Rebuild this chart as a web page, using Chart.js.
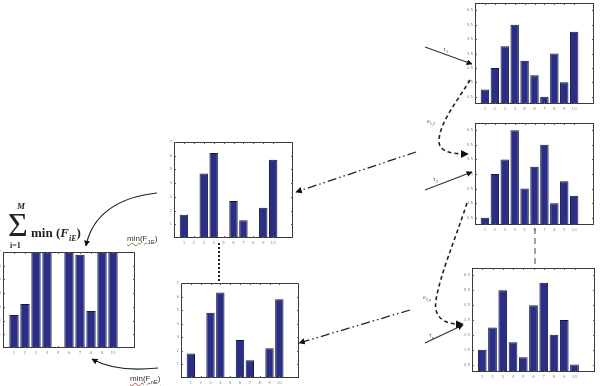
<!DOCTYPE html>
<html>
<head>
<meta charset="utf-8">
<script src="https://cdn.jsdelivr.net/npm/chart.js@4.4.1/dist/chart.umd.min.js"></script>
<style>
  html, body { margin: 0; padding: 0; background: #fff; }
  #stage { position: relative; width: 600px; height: 386px; overflow: hidden; }
  #stage canvas { position: absolute; }
  #overlay { position: absolute; left: 0; top: 0; z-index: 5; }
  .lbl { position: absolute; z-index: 6; white-space: nowrap; line-height: 1; }
  .minlbl { font-family: 'Liberation Sans', sans-serif; font-size: 8px; color: #333;
            text-decoration: underline wavy #5a9a3a; text-decoration-thickness: 1px; }
  .formula { font-family: 'Liberation Serif', serif; font-weight: bold; color: #222; }
</style>
</head>
<body>
<div id="stage">
  <canvas id="c1" width="139" height="121"></canvas>
  <canvas id="c2" width="139" height="122"></canvas>
  <canvas id="c3" width="143" height="124"></canvas>
  <canvas id="c4" width="139" height="116"></canvas>
  <canvas id="c5" width="138" height="115"></canvas>
  <canvas id="c6" width="152" height="116"></canvas>

  <svg id="overlay" width="600" height="386">
    <defs>
      <marker id="ah" viewBox="0 0 10 10" refX="9" refY="5" markerWidth="5" markerHeight="5" orient="auto">
        <path d="M0,0 L10,5 L0,10 z" fill="#111"/>
      </marker>
    </defs>
    <g fill="none" stroke="#333">
      <!-- tau arrows -->
      <line x1="425" y1="47" x2="472" y2="64" stroke-width="1.2" marker-end="url(#ah)"/>
      <line x1="425" y1="190" x2="472" y2="172" stroke-width="1.2" marker-end="url(#ah)"/>
      <line x1="425" y1="343" x2="463" y2="325" stroke-width="1.2" marker-end="url(#ah)"/>
      <!-- dashed links between histograms -->
      <path d="M470,80 C458,100 440,122 439,140 C438,152 452,154 468,154" stroke="#222" stroke-width="1.6" stroke-dasharray="4 3" marker-end="url(#ah)"/>
      <path d="M467,203 C455,240 440,275 436,300 C433,318 445,325 463,324" stroke="#222" stroke-width="1.6" stroke-dasharray="4 3" marker-end="url(#ah)"/>
      <line x1="535" y1="228" x2="535" y2="265" stroke="#444" stroke-width="1" stroke-dasharray="6 4"/>
      <!-- dash-dot arrows to min charts -->
      <line x1="416" y1="152" x2="296" y2="192" stroke="#222" stroke-width="1.3" stroke-dasharray="9 3 1.5 3 1.5 3" marker-end="url(#ah)"/>
      <line x1="410" y1="310" x2="299" y2="343" stroke="#222" stroke-width="1.3" stroke-dasharray="9 3 1.5 3 1.5 3" marker-end="url(#ah)"/>
      <line x1="219" y1="243" x2="219" y2="281" stroke="#222" stroke-width="2" stroke-dasharray="2 2"/>
      <!-- curved arrows to the sum -->
      <path d="M157,193 C118,197 92,215 86,246" stroke="#222" stroke-width="1.2" marker-end="url(#ah)"/>
      <path d="M158,368 C130,371 108,368 92,359" stroke="#222" stroke-width="1.2" marker-end="url(#ah)"/>
    </g>
    <g font-family="Liberation Serif, serif" fill="#555" font-size="7">
      <text x="443" y="51">τ<tspan font-size="5" dy="1.5">1</tspan></text>
      <text x="433" y="181">τ<tspan font-size="5" dy="1.5">2</tspan></text>
      <text x="429" y="337">τ<tspan font-size="5" dy="1.5">n</tspan></text>
      <text x="427" y="123" font-size="6">e<tspan font-size="4.5" dy="1.5">1,2</tspan></text>
      <text x="423" y="299" font-size="6">e<tspan font-size="4.5" dy="1.5">2,n</tspan></text>
    </g>
  </svg>

  <div class="lbl formula" style="left:8px; top:208px; font-size:34px; font-weight:normal;">&Sigma;</div>
  <div class="lbl formula" style="left:17px; top:202px; font-size:9px; font-style:italic;">M</div>
  <div class="lbl formula" style="left:10px; top:242px; font-size:8px;">i=1</div>
  <div class="lbl formula" style="left:31px; top:226px; font-size:13px;">min (<i>F</i><sub style="font-size:8px;"><i>iE</i></sub>)</div>
  <div class="lbl minlbl" style="left:127px; top:235px;">min(F<sub style="font-size:6px;">1E</sub>)</div>
  <div class="lbl minlbl" style="left:130px; top:375px; text-decoration-color:#c0503a;">min(F<sub style="font-size:6px;">nE</sub>)</div>
</div>

<script>
// bar positions 1..10 on an axis running 0..12
const positions = [1, 2, 3, 4, 5, 6, 7, 8, 9, 10];
const xTickLabels = ['1', '2', '3', '4', '5', '6', '7', '8', '9', '10'];
const yTicksHalf = [0.5, 1.5, 2.5, 3.5, 4.5, 5.5, 6.5];
const yTicksWhole = [1, 2, 3, 4, 5, 6, 7];

// histograms for tau_1, tau_2, tau_n
const hist1 = [1, 2.5, 4, 5.5, 3, 2, 0.5, 3.5, 1.5, 5];
const hist2 = [0.5, 3.5, 4.5, 6.5, 2.5, 4, 5.5, 1.5, 3, 2];
const histN = [1.5, 3, 5.5, 2, 1, 4.5, 6, 2.5, 3.5, 0.5];
// min(F_1E), min(F_nE)
const min1 = [1.7, null, 4.7, 6.2, null, 2.7, 1.3, null, 2.2, 5.7];
const minN = [1.8, null, 4.8, 6.3, null, 2.8, 1.3, null, 2.2, 5.8];
// sum of mins (goes over the top of the axes)
const sumMin = [2.4, 3.2, 9, 9, null, 9, 6.8, 2.7, 9, 9];

const barColor = '#2b2e86';
const barEdge = '#15173f';

const framePlugin = {
    id: 'frame',
    afterDraw(chart, args, opts) {
        const ctx = chart.ctx;
        const a = chart.chartArea;
        const x = chart.scales.x;
        const y = chart.scales.y;
        ctx.save();
        ctx.strokeStyle = '#3a3a3a';
        ctx.lineWidth = 1;
        ctx.strokeRect(Math.round(a.left) + 0.5, Math.round(a.top) + 0.5,
            Math.round(a.width) - 1, Math.round(a.height) - 1);

        // little inward ticks, matlab style
        ctx.strokeStyle = '#555';
        ctx.beginPath();
        positions.forEach(v => {
            const px = Math.round(x.getPixelForValue(v)) + 0.5;
            ctx.moveTo(px, a.bottom); ctx.lineTo(px, a.bottom - 2);
            ctx.moveTo(px, a.top); ctx.lineTo(px, a.top + 2);
        });
        opts.yTicks.forEach(v => {
            const py = Math.round(y.getPixelForValue(v)) + 0.5;
            ctx.moveTo(a.left, py); ctx.lineTo(a.left + 2, py);
            ctx.moveTo(a.right, py); ctx.lineTo(a.right - 2, py);
        });
        ctx.stroke();

        // tiny tick labels
        ctx.fillStyle = '#8a90b8';
        ctx.font = '4px "DejaVu Sans", sans-serif';
        ctx.textAlign = 'center';
        ctx.textBaseline = 'top';
        positions.forEach((v, i) => {
            ctx.fillText(xTickLabels[i], x.getPixelForValue(v), a.bottom + 3);
        });
        ctx.textAlign = 'right';
        ctx.textBaseline = 'middle';
        opts.yTicks.forEach(v => {
            ctx.fillText(String(v), a.left - 2, y.getPixelForValue(v));
        });
        ctx.restore();
    }
};

function drawHist(id, values, yTicks) {
    const ctx = document.getElementById(id).getContext('2d');
    return new Chart(ctx, {
        type: 'bar',
        data: {
            datasets: [{
                data: positions.map((p, i) => ({ x: p, y: values[i] })),
                backgroundColor: barColor,
                borderColor: barEdge,
                borderWidth: 1,
                borderSkipped: 'bottom',
                barPercentage: 0.85,
                categoryPercentage: 1,
                clip: 0
            }]
        },
        options: {
            responsive: false,
            devicePixelRatio: 1,
            animation: false,
            layout: { padding: 10 },
            scales: {
                x: { type: 'linear', min: 0, max: 12, offset: false, display: false,
                     grid: { offset: false } },
                y: { min: 0, max: 7, display: false }
            },
            plugins: {
                legend: { display: false },
                tooltip: { enabled: false },
                frame: { yTicks: yTicks }
            }
        },
        plugins: [framePlugin]
    });
}

function place(id, left, top) {
    const c = document.getElementById(id);
    c.style.left = (left - 10) + 'px';
    c.style.top = (top - 10) + 'px';
}

// frame corners; canvas is frame + 10px margin
place('c1', 475, 3);
place('c2', 475, 123);
place('c3', 472, 268);
place('c4', 174, 142);
place('c5', 181, 283);
place('c6', 3, 252);

drawHist('c1', hist1, yTicksHalf);
drawHist('c2', hist2, yTicksHalf);
drawHist('c3', histN, yTicksHalf);
drawHist('c4', min1, yTicksWhole);
drawHist('c5', minN, yTicksWhole);
drawHist('c6', sumMin, yTicksWhole);
</script>
</body>
</html>
